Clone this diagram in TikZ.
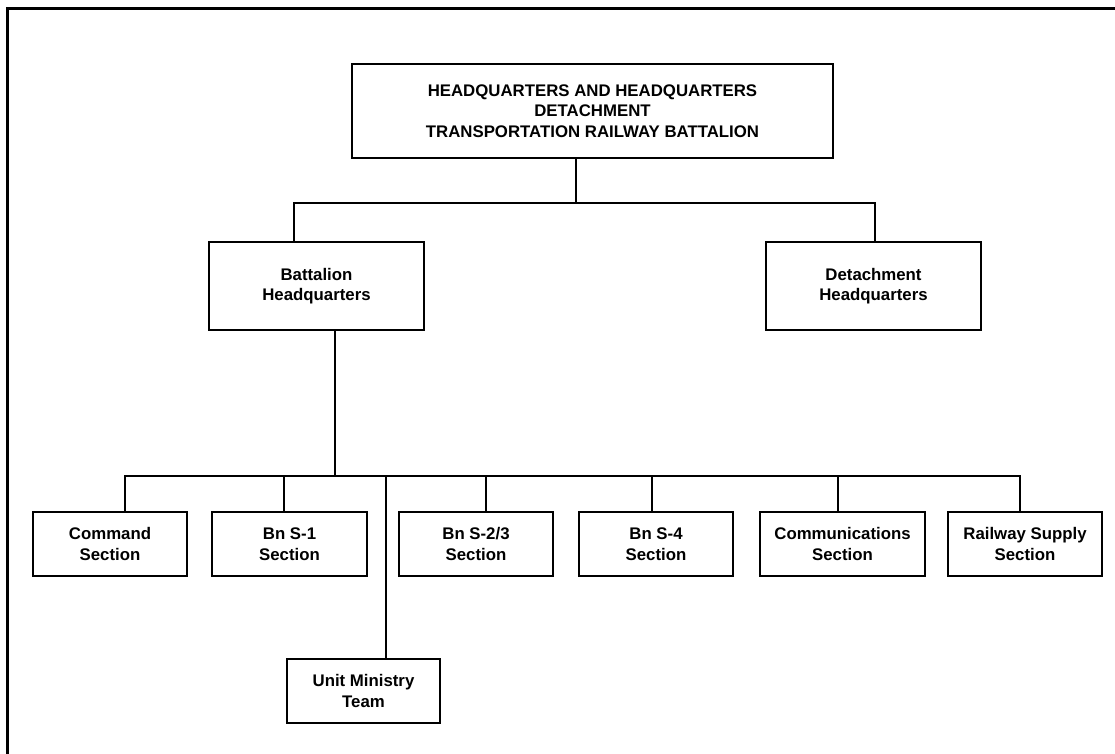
\documentclass[tikz,border=0pt]{standalone}
\usepackage{fontspec}
\setmainfont{Liberation Sans}
\begin{document}
\begin{tikzpicture}[x=1pt,y=-1pt,
  box/.style={draw=black,line width=2pt,align=center,inner sep=0pt,
    font=\fontsize{16.8}{20.5}\selectfont\bfseries},
  conn/.style={draw=black,line width=2pt}]
\useasboundingbox (0,0) rectangle (1115,754);
% frame (top and left sides visible)
\draw[line width=3pt] (7,760) -- (7,9) -- (1120,9);
% nodes
\node[box,minimum width=481pt,minimum height=94pt] (top) at (592.5,111)
  {HEADQUARTERS AND HEADQUARTERS\\DETACHMENT\\TRANSPORTATION RAILWAY BATTALION};
\node[box,minimum width=215pt,minimum height=88pt] (bhq) at (316.5,286) {Battalion\\Headquarters};
\node[box,minimum width=215pt,minimum height=88pt] (dhq) at (873.5,286) {Detachment\\Headquarters};
\node[box,minimum width=154pt,minimum height=64pt] (cmd) at (110,544) {Command\\Section};
\node[box,minimum width=155pt,minimum height=64pt] (s1) at (289.5,544) {Bn S-1\\Section};
\node[box,minimum width=154pt,minimum height=64pt] (s23) at (476,544) {Bn S-2/3\\Section};
\node[box,minimum width=154pt,minimum height=64pt] (s4) at (656,544) {Bn S-4\\Section};
\node[box,minimum width=165pt,minimum height=64pt] (comm) at (842.5,544) {Communications\\Section};
\node[box,minimum width=154pt,minimum height=64pt] (rail) at (1025,544) {Railway Supply\\Section};
\node[box,minimum width=153pt,minimum height=64pt] (umt) at (363.5,691) {Unit Ministry\\Team};
% connector positions
\coordinate (hb) at (0,203);
\coordinate (lb) at (0,476);
\coordinate (xt) at (576,0);
\coordinate (xb) at (294,0);
\coordinate (xd) at (875,0);
\coordinate (xbd) at (335,0);
\coordinate (xc) at (125,0);
\coordinate (xs1) at (284,0);
\coordinate (xu) at (386,0);
\coordinate (xs23) at (486,0);
\coordinate (xs4) at (652,0);
\coordinate (xcm) at (838,0);
\coordinate (xr) at (1020,0);
% connectors
\draw[conn] (top.south -| xt) -- (hb -| xt);
\draw[conn] (bhq.north -| xb) |- (hb -| xd) -- (dhq.north -| xd);
\draw[conn] (bhq.south -| xbd) -- (lb -| xbd);
\draw[conn] (cmd.north -| xc) |- (lb -| xr) -- (rail.north -| xr);
\draw[conn] (lb -| xs1) -- (s1.north -| xs1);
\draw[conn] (lb -| xs23) -- (s23.north -| xs23);
\draw[conn] (lb -| xs4) -- (s4.north -| xs4);
\draw[conn] (lb -| xcm) -- (comm.north -| xcm);
\draw[conn] (lb -| xu) -- (umt.north -| xu);
\end{tikzpicture}
\end{document}
